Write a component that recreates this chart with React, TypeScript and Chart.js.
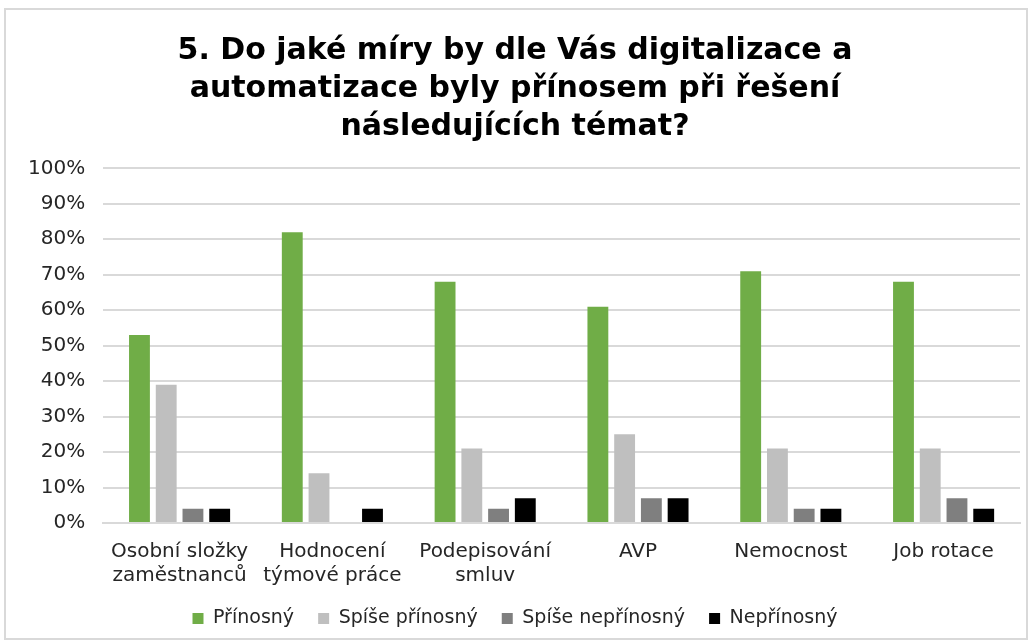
import React, { useEffect, useRef } from "react";
import { Chart, registerables } from "chart.js";

Chart.register(...registerables);

const categories: (string | string[])[] = [
  ["Osobní složky", "zaměstnanců"],
  ["Hodnocení", "týmové práce"],
  ["Podepisování", "smluv"],
  "AVP",
  "Nemocnost",
  "Job rotace",
];
const prinosny = [0.53, 0.82, 0.68, 0.61, 0.71, 0.68];
const spisePrinosny = [0.39, 0.14, 0.21, 0.25, 0.21, 0.21];
const spiseNeprinosny = [0.04, 0, 0.04, 0.07, 0.04, 0.07];
const neprinosny = [0.04, 0.04, 0.07, 0.07, 0.04, 0.04];
const titleLines = [
  "5. Do jaké míry by dle Vás digitalizace a",
  "automatizace byly přínosem při řešení",
  "následujících témat?",
];

const FONT = "'DejaVu Sans', Verdana, sans-serif";

export default function App() {
  const ref = useRef<HTMLCanvasElement>(null);
  useEffect(() => {
    if (!ref.current) return;
    const mk = (label: string, data: number[], color: string) => ({
      label,
      data,
      backgroundColor: color,
      borderWidth: 0,
      categoryPercentage: 0.7,
      barPercentage: 0.78,
    });
    const chart = new Chart(ref.current, {
      type: "bar",
      data: {
        labels: categories,
        datasets: [
          mk("Přínosný", prinosny, "#70AD47"),
          mk("Spíše přínosný", spisePrinosny, "#BFBFBF"),
          mk("Spíše nepřínosný", spiseNeprinosny, "#7F7F7F"),
          mk("Nepřínosný", neprinosny, "#000000"),
        ],
      },
      options: {
        animation: false,
        responsive: true,
        maintainAspectRatio: false,
        layout: { padding: { left: 4, right: 6, top: 22, bottom: 0 } },
        plugins: {
          title: {
            display: true,
            text: titleLines,
            color: "#000000",
            font: { family: FONT, size: 30, weight: "bold", lineHeight: 1.27 },
            padding: { top: 0, bottom: 22 },
          },
          legend: {
            position: "bottom",
            labels: {
              color: "#262626",
              font: { family: FONT, size: 19 },
              boxWidth: 11,
              boxHeight: 11,
              padding: 12,
              generateLabels: (c: any) => {
                const items = Chart.defaults.plugins.legend.labels.generateLabels(c);
                return items.map((it: any, i: number) => ({
                  ...it,
                  lineWidth: 0,
                  text: i < items.length - 1 ? it.text + "  " : it.text,
                }));
              },
            },
          },
          tooltip: { enabled: false },
        },
        scales: {
          x: {
            grid: { display: false },
            border: { color: "#D9D9D9", width: 2 },
            ticks: {
              color: "#262626",
              font: { family: FONT, size: 20, lineHeight: 1.2 },
              maxRotation: 0,
              autoSkip: false,
              padding: 9,
            },
          },
          y: {
            min: 0,
            max: 1,
            grid: { color: "#D9D9D9", lineWidth: 2, drawTicks: false },
            border: { display: false },
            ticks: {
              stepSize: 0.1,
              color: "#262626",
              font: { family: FONT, size: 20 },
              padding: 18,
              callback: (v: any) => Math.round(Number(v) * 100) + "%",
            },
          },
        },
      },
    });
    return () => chart.destroy();
  }, []);
  return (
    <div
      style={{
        position: "absolute",
        left: 4,
        top: 8,
        width: 1024,
        height: 632,
        border: "2px solid #D9D9D9",
        boxSizing: "border-box",
        background: "#fff",
      }}
    >
      <canvas ref={ref} />
    </div>
  );
}
